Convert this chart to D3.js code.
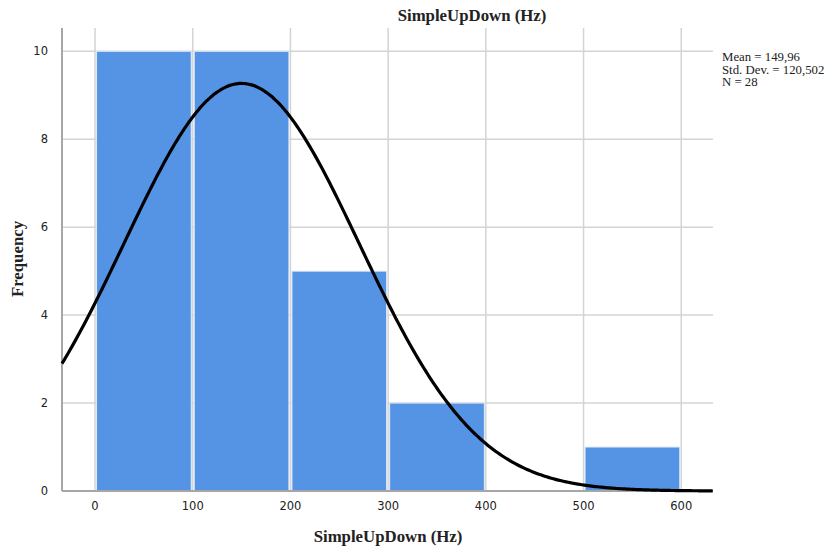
<!DOCTYPE html>
<html>
<head>
<meta charset="utf-8">
<script src="https://cdn.jsdelivr.net/npm/d3@7"></script>
<style>
  html, body { margin: 0; padding: 0; background: #fff; }
  svg { display: block; }
</style>
</head>
<body>
<svg id="chart" width="829" height="552"></svg>
<script>
// ---- Data ----
const binStarts = [0, 100, 200, 300, 400, 500];
const binEnds   = [100, 200, 300, 400, 500, 600];
const frequencies = [10, 10, 5, 2, 0, 1];
const xTicks = [0, 100, 200, 300, 400, 500, 600];
const yTicks = [0, 2, 4, 6, 8, 10];
const statMean = 149.96;
const statSD = 120.502;
const statN = 28;
const statLabels = ["Mean = 149,96", "Std. Dev. = 120,502", "N = 28"];
const chartTitle = "SimpleUpDown (Hz)";
const xTitle = "SimpleUpDown (Hz)";
const yTitle = "Frequency";

// ---- Layout ----
const svg = d3.select("#chart");
const pLeft = 62, pRight = 713, pTop = 28, pBottom = 491;

const x = d3.scaleLinear().domain([-33.8, 632.5]).range([pLeft, pRight]);
const y = d3.scaleLinear().domain([0, 10.53]).range([pBottom, pTop]);

const gridColor = "#d4d4d4";

// gridlines
svg.append("g").selectAll("line").data(yTicks.filter(d => d > 0)).join("line")
  .attr("x1", pLeft).attr("x2", pRight)
  .attr("y1", d => y(d)).attr("y2", d => y(d))
  .attr("stroke", gridColor).attr("stroke-width", 1.5);
svg.append("g").selectAll("line").data(xTicks).join("line")
  .attr("x1", d => x(d)).attr("x2", d => x(d))
  .attr("y1", pTop).attr("y2", pBottom)
  .attr("stroke", gridColor).attr("stroke-width", 1.5);

// bars
const bins = binStarts.map((s, i) => ({ s, e: binEnds[i], f: frequencies[i] })).filter(d => d.f > 0);
svg.append("g").selectAll("rect").data(bins).join("rect")
  .attr("x", d => x(d.s) + 1.5)
  .attr("width", d => x(d.e) - x(d.s) - 3)
  .attr("y", d => y(d.f))
  .attr("height", d => y(0) - y(d.f))
  .attr("fill", "#5594e4")
  .attr("stroke", "#dfe9f7").attr("stroke-width", 1);

// axes lines
svg.append("line").attr("x1", pLeft).attr("x2", pLeft).attr("y1", pTop).attr("y2", pBottom)
  .attr("stroke", "#a6a6a6").attr("stroke-width", 2);
svg.append("line").attr("x1", pLeft).attr("x2", pRight).attr("y1", pBottom).attr("y2", pBottom)
  .attr("stroke", "#a6a6a6").attr("stroke-width", 2);

// normal curve
const binW = binEnds[0] - binStarts[0];
const pts = d3.range(x.domain()[0], x.domain()[1] + 0.01, 2).map(v => {
  const z = (v - statMean) / statSD;
  return [v, statN * binW * Math.exp(-0.5 * z * z) / (statSD * Math.sqrt(2 * Math.PI))];
});
svg.append("path").datum(pts)
  .attr("fill", "none").attr("stroke", "#000").attr("stroke-width", 3.2)
  .attr("d", d3.line().x(d => x(d[0])).y(d => y(d[1])).curve(d3.curveBasis));

// axis tick labels
const tickFont = "DejaVu Sans, sans-serif";
svg.append("g").selectAll("text").data(yTicks).join("text")
  .attr("x", 48).attr("y", d => y(d) + 4)
  .attr("text-anchor", "end")
  .attr("font-family", tickFont).attr("font-size", 11.5).attr("fill", "#222")
  .text(d => d);
svg.append("g").selectAll("text").data(xTicks).join("text")
  .attr("x", d => x(d)).attr("y", 510)
  .attr("text-anchor", "middle")
  .attr("font-family", tickFont).attr("font-size", 11.5).attr("fill", "#222")
  .text(d => d);

// titles
const serif = "Liberation Serif, Times New Roman, serif";
svg.append("text").attr("x", 472).attr("y", 21).attr("text-anchor", "middle")
  .attr("font-family", serif).attr("font-weight", "bold").attr("font-size", 16.8).attr("fill", "#222")
  .text(chartTitle);
svg.append("text").attr("x", 388).attr("y", 542).attr("text-anchor", "middle")
  .attr("font-family", serif).attr("font-weight", "bold").attr("font-size", 16.8).attr("fill", "#222")
  .text(xTitle);
svg.append("text").attr("transform", "translate(23,259) rotate(-90)").attr("text-anchor", "middle")
  .attr("font-family", serif).attr("font-weight", "bold").attr("font-size", 16.8).attr("fill", "#222")
  .text(yTitle);

// stats legend
svg.append("g").selectAll("text").data(statLabels).join("text")
  .attr("x", 722).attr("y", (d, i) => 61 + i * 12.5)
  .attr("font-family", serif).attr("font-size", 12.8).attr("fill", "#222")
  .text(d => d);
</script>
</body>
</html>
